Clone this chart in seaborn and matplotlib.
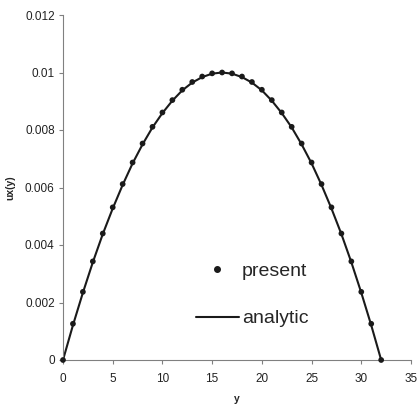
import matplotlib
matplotlib.use("Agg")
import matplotlib.pyplot as plt
import seaborn as sns
import pandas as pd
from matplotlib.lines import Line2D

# data
y_present = list(range(0, 33))
ux_present = [0.0, 0.00126, 0.00237, 0.00343, 0.00440, 0.00531, 0.00612, 0.00687,
              0.00753, 0.00811, 0.00861, 0.00904, 0.00940, 0.00967, 0.00986, 0.00997,
              0.01000, 0.00997, 0.00986, 0.00967, 0.00940, 0.00904, 0.00861, 0.00811,
              0.00753, 0.00687, 0.00612, 0.00531, 0.00440, 0.00343, 0.00237, 0.00126, 0.0]
y_analytic = list(range(0, 33))
ux_analytic = [0.0, 0.00121, 0.00234, 0.00340, 0.00438, 0.00527, 0.00609, 0.00684,
               0.00750, 0.00809, 0.00859, 0.00902, 0.00938, 0.00965, 0.00984, 0.00996,
               0.01000, 0.00996, 0.00984, 0.00965, 0.00938, 0.00902, 0.00859, 0.00809,
               0.00750, 0.00684, 0.00609, 0.00527, 0.00438, 0.00340, 0.00234, 0.00121, 0.0]
x_ticks = [0, 5, 10, 15, 20, 25, 30, 35]
y_ticks = [0, 0.002, 0.004, 0.006, 0.008, 0.01, 0.012]
y_tick_labels = ["0", "0.002", "0.004", "0.006", "0.008", "0.01", "0.012"]

sns.set_style("ticks")
plt.rcParams["font.family"] = ["Liberation Sans", "DejaVu Sans"]

fig = plt.figure(figsize=(4.17, 4.05), dpi=100)
ax = fig.add_axes([63/417, 1-360/405, (411-63)/417, (360-15)/405])

df_a = pd.DataFrame({"y": y_analytic, "ux": ux_analytic})
df_p = pd.DataFrame({"y": y_present, "ux": ux_present})
sns.lineplot(data=df_a, x="y", y="ux", ax=ax, color="#1a1a1a", linewidth=1.5, zorder=2)
sns.scatterplot(data=df_p, x="y", y="ux", ax=ax, color="#1a1a1a", s=17,
                edgecolor="none", zorder=3, clip_on=False)

ax.set_xlim(0, 35)
ax.set_ylim(0, 0.012)
ax.set_xticks(x_ticks)
ax.set_xticklabels([str(t) for t in x_ticks])
ax.set_yticks(y_ticks)
ax.set_yticklabels(y_tick_labels)
ax.tick_params(axis="both", labelsize=8.5, length=3, width=0.8, color="#808080",
               labelcolor="#222222", pad=3)
ax.tick_params(axis="x", pad=6)
for s in ["top", "right"]:
    ax.spines[s].set_visible(False)
for s in ["left", "bottom"]:
    ax.spines[s].set_color("#808080")
    ax.spines[s].set_linewidth(0.8)

ax.set_xlabel("y", fontsize=7.5, fontweight="bold", labelpad=7)
ax.set_ylabel("ux(y)", fontsize=7.5, fontweight="bold", labelpad=7)

handles = [Line2D([], [], marker="o", linestyle="none", color="#1a1a1a", markersize=4),
           Line2D([], [], color="#1a1a1a", linewidth=1.5)]
fig.legend(handles, ["present", "analytic"], loc="upper left",
           bbox_to_anchor=(196/417, 1-262/405), frameon=False, fontsize=14,
           handlelength=2.2, handletextpad=0.15, labelspacing=1.55,
           borderpad=0, borderaxespad=0, numpoints=1)

fig.savefig("out.png", dpi=100)
